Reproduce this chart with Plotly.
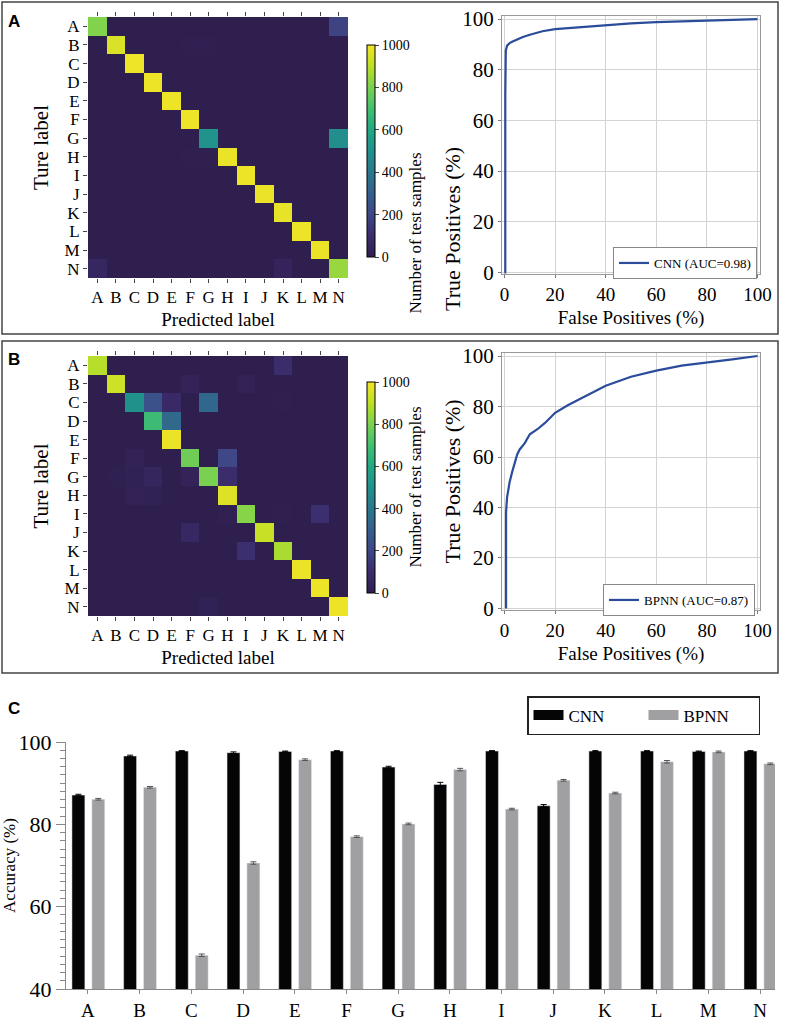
import plotly.graph_objects as go

W, H = 787, 1021

labels = list("ABCDEFGHIJKLMN")

# confusion matrix, CNN (rows = true label, cols = predicted label)
cm_cnn = [
    [812, 0, 0, 0, 0, 0, 0, 0, 0, 0, 0, 0, 0, 185],
    [0, 952, 0, 0, 0, 6, 10, 0, 0, 0, 0, 0, 0, 0],
    [0, 0, 992, 0, 0, 0, 0, 0, 0, 0, 0, 0, 0, 0],
    [0, 0, 0, 990, 0, 0, 0, 0, 0, 0, 0, 0, 0, 0],
    [0, 0, 0, 0, 990, 0, 0, 0, 0, 0, 0, 0, 0, 0],
    [0, 0, 0, 0, 0, 992, 0, 0, 0, 0, 0, 0, 0, 0],
    [0, 0, 0, 0, 0, 0, 505, 0, 0, 0, 0, 0, 0, 490],
    [0, 0, 0, 0, 0, 5, 5, 985, 0, 0, 0, 0, 0, 0],
    [0, 0, 0, 0, 0, 0, 0, 0, 990, 0, 0, 0, 0, 0],
    [0, 0, 0, 0, 0, 0, 0, 0, 0, 985, 0, 0, 0, 0],
    [0, 0, 0, 0, 0, 0, 0, 0, 0, 0, 980, 0, 0, 0],
    [0, 0, 0, 0, 0, 0, 0, 0, 0, 0, 0, 990, 0, 0],
    [0, 0, 0, 0, 0, 0, 0, 0, 0, 0, 0, 0, 985, 0],
    [60, 0, 0, 0, 0, 0, 0, 0, 0, 0, 40, 0, 0, 845],
]

# confusion matrix, BPNN
cm_bpnn = [
    [890, 0, 0, 0, 0, 0, 0, 0, 0, 0, 100, 0, 0, 0],
    [0, 930, 0, 0, 0, 30, 0, 0, 25, 0, 0, 0, 0, 0],
    [0, 0, 500, 240, 80, 0, 330, 0, 0, 0, 10, 0, 0, 0],
    [0, 0, 0, 680, 340, 0, 0, 0, 0, 0, 0, 0, 0, 0],
    [0, 0, 0, 0, 985, 0, 0, 0, 0, 0, 0, 0, 0, 0],
    [0, 0, 25, 0, 0, 780, 0, 200, 0, 0, 0, 0, 0, 0],
    [0, 10, 20, 50, 0, 30, 800, 100, 0, 0, 0, 0, 0, 0],
    [0, 0, 25, 20, 0, 0, 0, 960, 0, 0, 0, 0, 0, 0],
    [0, 0, 0, 0, 0, 0, 0, 15, 820, 0, 10, 0, 110, 0],
    [0, 0, 0, 0, 0, 70, 0, 0, 0, 920, 0, 0, 0, 0],
    [0, 0, 0, 0, 0, 0, 0, 0, 110, 0, 870, 0, 0, 0],
    [0, 0, 0, 0, 0, 0, 0, 0, 0, 0, 0, 985, 0, 0],
    [0, 0, 0, 0, 0, 0, 0, 0, 0, 0, 0, 0, 990, 0],
    [0, 0, 0, 0, 0, 0, 20, 0, 0, 0, 0, 0, 0, 990],
]

# ROC curves (%)
fpr_cnn = [0, 0.3, 0.3, 0.5, 1, 2, 3, 5, 7, 10, 15, 20, 25, 30, 40, 50, 60, 70, 80, 90, 100]
tpr_cnn = [0, 0, 70, 87.5, 89.5, 90.5, 91, 92, 92.8, 93.8, 95.2, 96, 96.4, 96.8, 97.6, 98.3, 98.8, 99.2, 99.5, 99.7, 100]

fpr_bpnn = [0.6, 0.6, 1, 2, 3, 4, 5, 6, 8, 10, 13, 16, 20, 25, 30, 35, 40, 50, 60, 70, 80, 90, 100]
tpr_bpnn = [0, 38, 44, 50, 54, 58, 61, 63, 65.5, 69, 71, 73.5, 77.5, 80.5, 83, 85.8, 88.2, 91.8, 94.2, 96.2, 97.6, 98.7, 100]

# per-class accuracy (%)
cnn_acc = [87.1, 96.6, 97.8, 97.4, 97.7, 97.8, 93.9, 89.7, 97.8, 84.5, 97.8, 97.8, 97.7, 97.8]
bpnn_acc = [86.1, 89.0, 48.2, 70.6, 95.7, 77.0, 80.1, 93.3, 83.7, 90.7, 87.6, 95.2, 97.6, 94.7]
cnn_err = [0.2, 0.2, 0.1, 0.2, 0.1, 0.1, 0.2, 0.5, 0.1, 0.3, 0.1, 0.1, 0.1, 0.1]
bpnn_err = [0.2, 0.2, 0.3, 0.3, 0.2, 0.2, 0.2, 0.3, 0.2, 0.2, 0.2, 0.3, 0.2, 0.2]

SERIF = "Liberation Serif"

# viridis, a bit darker/desaturated at the low end like the printed figure
cmap = [
    [0.0, "#2f1f4f"], [0.1, "#3b2c6c"], [0.2, "#3f4786"], [0.3, "#355f8d"],
    [0.4, "#2a788e"], [0.5, "#21918c"], [0.6, "#22a884"], [0.7, "#44bf70"],
    [0.8, "#7ad151"], [0.9, "#bddf26"], [1.0, "#f2e428"],
]


def px_x(a, b):
    return [a / W, b / W]


def px_y(top, bottom):
    return [1 - bottom / H, 1 - top / H]


fig = go.Figure()

# heatmaps
for cm, xa, ya, cb_top, cb_bot in [(cm_cnn, "x", "y", 45, 257), (cm_bpnn, "x3", "y3", 382, 593)]:
    fig.add_trace(go.Heatmap(
        z=cm, x=labels, y=labels, xaxis=xa, yaxis=ya,
        colorscale=cmap, zmin=0, zmax=1000, showscale=True,
        colorbar=dict(
            x=367 / W, xanchor="left", thickness=8, xpad=0, ypad=0,
            y=1 - (cb_top + cb_bot) / 2 / H, yanchor="middle",
            len=(cb_bot - cb_top) / H, lenmode="fraction",
            outlinewidth=1, outlinecolor="black",
            tickvals=[0, 200, 400, 600, 800, 1000], ticks="outside", ticklen=4,
            tickfont=dict(size=14, family=SERIF),
        ),
        hoverinfo="skip",
    ))
    fig.add_annotation(text="Number of test samples", textangle=-90, x=415 / W,
                       y=1 - (cb_top + cb_bot) / 2 / H, xref="paper", yref="paper",
                       showarrow=False, font=dict(size=17, family=SERIF, color="black"))

# ROC curves
fig.add_trace(go.Scatter(x=fpr_cnn, y=tpr_cnn, mode="lines", name="CNN (AUC=0.98)",
                         line=dict(color="#2b4c9b", width=2.2), xaxis="x2", yaxis="y2", legend="legend"))
fig.add_trace(go.Scatter(x=fpr_bpnn, y=tpr_bpnn, mode="lines", name="BPNN (AUC=0.87)",
                         line=dict(color="#2b4c9b", width=2.2), xaxis="x4", yaxis="y4", legend="legend2"))

# accuracy bars
fig.add_trace(go.Bar(x=labels, y=cnn_acc, name="CNN", marker=dict(color="#050505"),
                     width=0.25, offset=-0.31, showlegend=False,
                     error_y=dict(type="data", array=cnn_err, color="black", thickness=1, width=3),
                     xaxis="x5", yaxis="y5"))
fig.add_trace(go.Bar(x=labels, y=bpnn_acc, name="BPNN", marker=dict(color="#a0a0a2"),
                     width=0.25, offset=0.075, showlegend=False,
                     error_y=dict(type="data", array=bpnn_err, color="#555", thickness=1, width=3),
                     xaxis="x5", yaxis="y5"))
# wide legend swatches for the bar series
for nm, col in [("CNN", "#050505"), ("BPNN", "#a0a0a2")]:
    fig.add_trace(go.Scatter(x=[None], y=[None], mode="lines", name=nm,
                             line=dict(color=col, width=13), xaxis="x5", yaxis="y5",
                             legend="legend3"))

hm_x = dict(tickfont=dict(size=17, family=SERIF), ticks="outside", ticklen=4, mirror="ticks",
            tickmode="array", tickvals=labels,
            showgrid=False, zeroline=False, tickangle=0,
            title=dict(text="Predicted label", font=dict(size=19, family=SERIF), standoff=6))
hm_y = dict(tickfont=dict(size=17, family=SERIF), ticks="outside", ticklen=4,
            tickmode="array", tickvals=labels,
            showgrid=False, zeroline=False, autorange="reversed",
            title=dict(text="Ture label", font=dict(size=21, family=SERIF), standoff=10))

roc_x = dict(range=[-1, 101], tickvals=[0, 20, 40, 60, 80, 100], showline=True, mirror=True,
             linecolor="#999", linewidth=1, gridcolor="#d3d3d3", zeroline=False,
             ticks="outside", ticklen=3, tickcolor="#777", tickfont=dict(size=19, family=SERIF),
             title=dict(text="False Positives (%)", font=dict(size=19, family=SERIF), standoff=6))
roc_y = dict(range=[-0.6, 101.2], tickvals=[0, 20, 40, 60, 80, 100], showline=True, mirror=True,
             linecolor="#999", linewidth=1, gridcolor="#d3d3d3", zeroline=False,
             ticks="outside", ticklen=3, tickcolor="#777", tickfont=dict(size=21, family=SERIF))

leg_roc = dict(bgcolor="white", bordercolor="#888", borderwidth=1, font=dict(size=13, family=SERIF),
               xanchor="left", yanchor="top", itemwidth=30)

fig.update_layout(
    width=W, height=H,
    margin=dict(l=0, r=0, t=0, b=0, autoexpand=False),
    paper_bgcolor="white", plot_bgcolor="white",
    font=dict(family=SERIF, color="black"),
    xaxis=dict(domain=px_x(88, 348), anchor="y", **hm_x),
    yaxis=dict(domain=px_y(17, 278), anchor="x", **hm_y),
    xaxis3=dict(domain=px_x(88, 348), anchor="y3", **hm_x),
    yaxis3=dict(domain=px_y(356, 616), anchor="x3", **hm_y),
    xaxis2=dict(domain=px_x(502, 760), anchor="y2", **roc_x),
    yaxis2=dict(domain=px_y(16, 274), anchor="x2", **roc_y),
    xaxis4=dict(domain=px_x(502, 760), anchor="y4", **roc_x),
    yaxis4=dict(domain=px_y(353, 610), anchor="x4", **roc_y),
    xaxis5=dict(domain=px_x(66, 775), anchor="y5", range=[-0.425, 13.29], showline=True,
                linecolor="#888", linewidth=1.2, ticks="outside", ticklen=4, tickcolor="#888",
                tickfont=dict(size=19, family=SERIF), showgrid=False, zeroline=False),
    yaxis5=dict(domain=px_y(742, 989), anchor="x5", range=[40, 100], tickvals=[40, 60, 80, 100],
                showline=True, linecolor="#888", linewidth=1.2, ticks="outside", ticklen=9,
                tickcolor="#888", minor=dict(dtick=2, ticks="outside", ticklen=5, tickcolor="#888"),
                tickfont=dict(size=22, family=SERIF), showgrid=False, zeroline=False,
                title=dict(text="Accuracy (%)", font=dict(size=17, family=SERIF), standoff=4)),
    barmode="overlay",
    legend=dict(x=613 / W, y=1 - 247 / H, **leg_roc),
    legend2=dict(x=603 / W, y=1 - 584 / H, **leg_roc),
    legend3=dict(x=527 / W, y=1 - 696 / H, xanchor="left", yanchor="top", orientation="h",
                 bgcolor="white", bordercolor="#222", borderwidth=1.5, itemwidth=30,
                 font=dict(size=17, family=SERIF), entrywidth=70),
    showlegend=True,
)

# ROC y-axis titles
for yc in [(16 + 274) / 2, (353 + 610) / 2]:
    fig.add_annotation(text="True Positives (%)", textangle=-90, x=452 / W, y=1 - yc / H,
                       xref="paper", yref="paper", showarrow=False,
                       font=dict(size=22, family=SERIF, color="black"))

# panel frames
for top, bot in [(2, 334), (341, 673)]:
    fig.add_shape(type="rect", xref="paper", yref="paper",
                  x0=2 / W, x1=778 / W, y0=1 - bot / H, y1=1 - top / H,
                  line=dict(color="#444", width=1.5))

for txt, ty in [("A", 10), ("B", 348), ("C", 697)]:
    fig.add_annotation(text="<b>%s</b>" % txt, x=6 / W, y=1 - ty / H, xref="paper", yref="paper",
                       xanchor="left", yanchor="top", showarrow=False,
                       font=dict(size=17, family="Liberation Sans", color="black"))

# the page body has a default 8px margin; drop it so the figure fills the window
fig.write_html("out.html", config={"displayModeBar": False},
               post_script="document.body.style.margin='0';")
